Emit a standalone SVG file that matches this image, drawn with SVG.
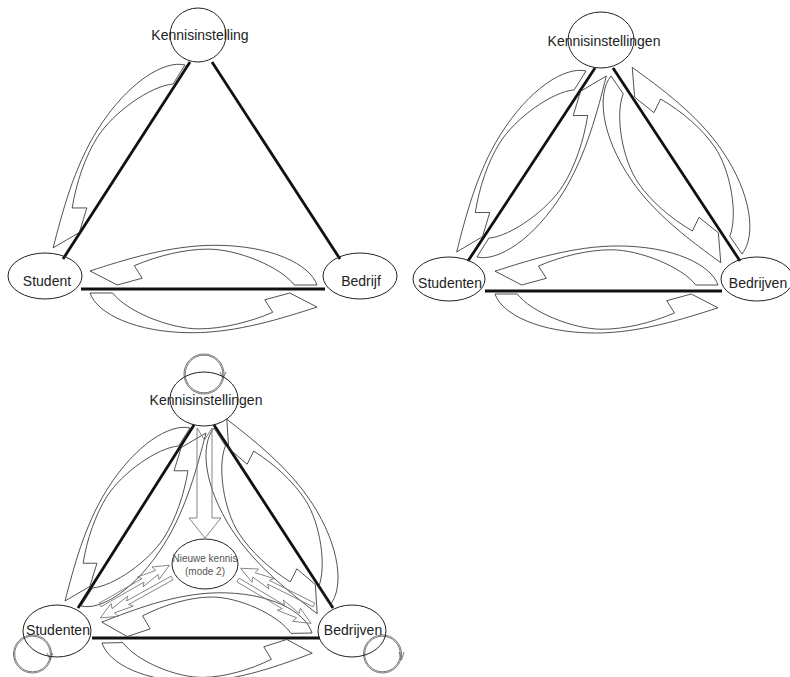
<svg xmlns="http://www.w3.org/2000/svg" xmlns:xlink="http://www.w3.org/1999/xlink" width="790" height="677" viewBox="0 0 790 677">
<style>
.ln{stroke:#111;stroke-width:2.8;fill:none;stroke-linecap:butt}
.nd{fill:none;stroke:#222;stroke-width:1}
.ar{fill:none;stroke:#333;stroke-width:0.85;vector-effect:non-scaling-stroke;stroke-linejoin:miter}
.gr{fill:none;stroke:#777;stroke-width:0.9;vector-effect:non-scaling-stroke}
.lp{fill:none;stroke:#666;stroke-width:0.9}
.t{font-family:"Liberation Sans",Arial,sans-serif;font-size:14px;fill:#222;text-anchor:middle}
.ts{font-family:"Liberation Sans",Arial,sans-serif;font-size:10px;fill:#555;text-anchor:middle}
</style>
<defs>
<path id="arw" class="ar" d="M0,0 C3,9 20,17.5 45,17.5 C65,17.5 85,11 100,6.2 L88,0 L77,3 L80.5,8.5 C70,13 58,15.8 48,15.8 C35,15.8 16,8 10,0 Z"/>
<path id="zap" class="gr" d="M0,-2.5 L62,-2.5 L58,-7 L82,-3 L80,-9 L100,0 L80,9 L82,3 L58,7 L62,2.5 L0,2.5 Z"/>
</defs>

<!-- Diagram 1 -->
<g id="connectors1">
<line class="ln" x1="190" y1="62" x2="63" y2="259"/>
<line class="ln" x1="212" y1="62" x2="340" y2="259"/>
<line class="ln" x1="81" y1="289" x2="325" y2="289"/>
<use href="#arw" transform="translate(185,65) rotate(122.25) scale(2.25)"/>
<use href="#arw" transform="translate(90,293) rotate(0) scale(2.27)"/>
<use href="#arw" transform="translate(317,285) rotate(180) scale(2.27)"/>
</g>
<g id="kennisinstelling">
<ellipse class="nd" cx="198" cy="35" rx="28" ry="27"/>
<text class="t" x="200" y="40">Kennisinstelling</text>
</g>
<g id="student">
<ellipse class="nd" cx="45" cy="276" rx="37" ry="23"/>
<text class="t" x="47" y="286">Student</text>
</g>
<g id="bedrijf">
<ellipse class="nd" cx="360" cy="276" rx="37" ry="23"/>
<text class="t" x="361" y="286">Bedrijf</text>
</g>

<!-- Diagram 2 -->
<g id="connectors2">
<line class="ln" x1="595" y1="68" x2="468" y2="261"/>
<line class="ln" x1="613" y1="68" x2="740" y2="261"/>
<line class="ln" x1="485" y1="291" x2="722" y2="291"/>
<use href="#arw" transform="translate(586,71) rotate(122) scale(2.22)"/>
<use href="#arw" transform="translate(477,257) rotate(302) scale(2.22)"/>
<use href="#arw" transform="translate(611,76) rotate(55.6) scale(2.16,2.4)"/>
<use href="#arw" transform="translate(742,254) rotate(235.6) scale(2.16,2.4)"/>
<use href="#arw" transform="translate(495,294) rotate(0) scale(2.23)"/>
<use href="#arw" transform="translate(718,285) rotate(180) scale(2.23)"/>
</g>
<g id="kennisinstellingen2">
<ellipse class="nd" cx="601" cy="40" rx="33" ry="28"/>
<text class="t" x="604" y="46">Kennisinstellingen</text>
</g>
<g id="studenten2">
<ellipse class="nd" cx="449" cy="279" rx="36" ry="22"/>
<text class="t" x="450" y="288">Studenten</text>
</g>
<g id="bedrijven2">
<ellipse class="nd" cx="757" cy="279" rx="36" ry="22"/>
<text class="t" x="758" y="288">Bedrijven</text>
</g>

<!-- Diagram 3 -->
<g id="connectors3">
<line class="ln" x1="194" y1="425" x2="78" y2="608"/>
<line class="ln" x1="214" y1="425" x2="333" y2="608"/>
<line class="ln" x1="92" y1="638" x2="320" y2="638"/>
<use href="#arw" transform="translate(190,428) rotate(122.3) scale(2.13)"/>
<use href="#arw" transform="translate(81,606) rotate(302.3) scale(2.13)"/>
<use href="#arw" transform="translate(214,428) rotate(57.1) scale(2.12,2.3)"/>
<use href="#arw" transform="translate(330,605) rotate(237.1) scale(2.12,2.3)"/>
<use href="#arw" transform="translate(102,643) rotate(-1.1) scale(2.1,2.3)"/>
<use href="#arw" transform="translate(312,633) rotate(178.9) scale(2.1,2.4)"/>
<path class="gr" d="M197,428 L204.5,440 L212,428 L212,518 L221,518 L205,538 L189,518 L197,518 Z"/>
<use href="#zap" transform="translate(100,605) rotate(-29.8) scale(0.8)"/>
<use href="#zap" transform="translate(172,578) rotate(150.9) scale(0.82)"/>
<use href="#zap" transform="translate(314,605) rotate(206.6) scale(0.82)"/>
<use href="#zap" transform="translate(238,580) rotate(30.7) scale(0.85)"/>
<circle class="lp" cx="204" cy="374" r="20"/>
<circle class="lp" cx="204" cy="374" r="18.8"/>
<path class="lp" d="M220,372 L223,378 L226,372"/>
<circle class="lp" cx="32.5" cy="654" r="19"/>
<circle class="lp" cx="32.5" cy="654" r="17.8"/>
<path class="lp" d="M47,653 L50,659 L53,653"/>
<circle class="lp" cx="382.5" cy="654" r="19"/>
<circle class="lp" cx="382.5" cy="654" r="17.8"/>
<path class="lp" d="M399,652 L401.5,660 L404,652"/>
</g>
<g id="kennisinstellingen3">
<ellipse class="nd" cx="204" cy="399" rx="34" ry="27"/>
<text class="t" x="206" y="405">Kennisinstellingen</text>
</g>
<g id="studenten3">
<ellipse class="nd" cx="57" cy="631" rx="34" ry="26"/>
<text class="t" x="58" y="635">Studenten</text>
</g>
<g id="bedrijven3">
<ellipse class="nd" cx="352" cy="631" rx="34" ry="26"/>
<text class="t" x="353" y="635">Bedrijven</text>
</g>
<g id="nieuwe-kennis">
<ellipse class="nd" cx="205" cy="564" rx="33" ry="25"/>
<text class="ts" x="205" y="562">Nieuwe kennis</text>
<text class="ts" x="205" y="575">(mode 2)</text>
</g>
</svg>
